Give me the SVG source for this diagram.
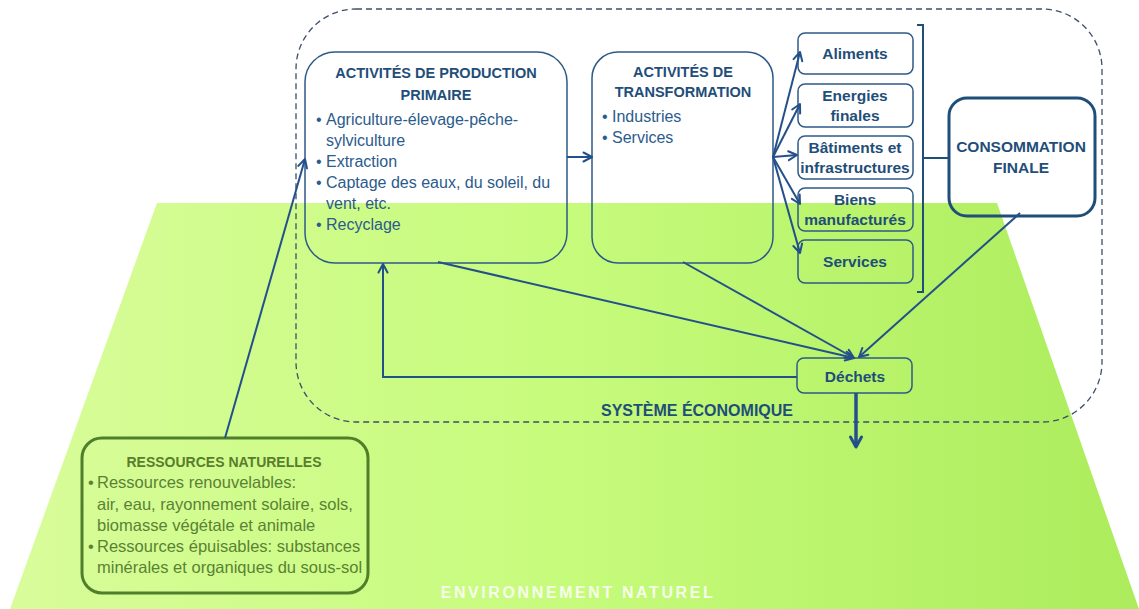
<svg xmlns="http://www.w3.org/2000/svg" width="1139" height="609" viewBox="0 0 1139 609">
<defs>
<linearGradient id="grn" x1="0" y1="0" x2="1" y2="0">
<stop offset="0" stop-color="#d8fc9a"/>
<stop offset="0.5" stop-color="#c6fb7b"/>
<stop offset="1" stop-color="#acec5c"/>
</linearGradient>
<marker id="arr" viewBox="0 0 12 12" refX="10.5" refY="6" markerWidth="12" markerHeight="12" markerUnits="userSpaceOnUse" orient="auto">
<path d="M2,1.5 L10.5,6 L2,10.5" fill="none" stroke="#24508a" stroke-width="2" stroke-linecap="round" stroke-linejoin="round"/>
</marker>
<marker id="arrB" viewBox="0 0 14 14" refX="12" refY="7" markerWidth="14" markerHeight="14" markerUnits="userSpaceOnUse" orient="auto">
<path d="M2,1.5 L12,7 L2,12.5" fill="none" stroke="#24508a" stroke-width="3" stroke-linecap="round" stroke-linejoin="round"/>
</marker>
</defs>
<style>
.box{fill:none;stroke:#2e5a88;stroke-width:1.5}
.ttl{font-family:"Liberation Sans",Arial,sans-serif;font-weight:bold;font-size:14.5px;fill:#1f4e79;text-anchor:middle}
.lbl{font-family:"Liberation Sans",Arial,sans-serif;font-weight:bold;font-size:15.5px;fill:#1f4e79;text-anchor:middle}
.bul{font-family:"Liberation Sans",Arial,sans-serif;font-size:16px;fill:#2b5b8c}
.gttl{font-family:"Liberation Sans",Arial,sans-serif;font-weight:bold;font-size:14px;fill:#5a7d2c;text-anchor:middle}
.gbul{font-family:"Liberation Sans",Arial,sans-serif;font-size:16.5px;fill:#5a8233}
.con{fill:none;stroke:#24508a;stroke-width:2}
</style>
<rect x="0" y="0" width="1139" height="609" fill="#ffffff"/>
<g id="environnement">
<polygon points="157,203 997,203 1139,609 10,609" fill="url(#grn)"/>
<text x="578" y="598" font-family="Liberation Sans, Arial, sans-serif" font-weight="bold" font-size="16" letter-spacing="2.6" fill="#ffffff" fill-opacity="0.85" text-anchor="middle">ENVIRONNEMENT NATUREL</text>
</g>
<g id="systeme">
<rect x="296" y="9" width="806" height="413" rx="60" ry="60" fill="none" stroke="#3d4d6d" stroke-width="1.3" stroke-dasharray="6 4"/>
<text x="697" y="416" font-family="Liberation Sans, Arial, sans-serif" font-weight="bold" font-size="16" fill="#1f4e79" text-anchor="middle">SYSTÈME ÉCONOMIQUE</text>
</g>
<g id="production">
<rect class="box" x="305" y="52" width="262" height="211" rx="30"/>
<text class="ttl" x="436" y="78">ACTIVITÉS DE PRODUCTION</text>
<text class="ttl" x="436" y="100">PRIMAIRE</text>
<text class="bul" x="316" y="125">•</text><text class="bul" x="326" y="125">Agriculture-élevage-pêche-</text>
<text class="bul" x="326" y="146">sylviculture</text>
<text class="bul" x="316" y="167">•</text><text class="bul" x="326" y="167">Extraction</text>
<text class="bul" x="316" y="188">•</text><text class="bul" x="326" y="188">Captage des eaux, du soleil, du</text>
<text class="bul" x="326" y="209">vent, etc.</text>
<text class="bul" x="316" y="230">•</text><text class="bul" x="326" y="230">Recyclage</text>
</g>
<g id="transformation">
<rect class="box" x="592" y="52" width="181" height="211" rx="26"/>
<text class="ttl" x="683" y="77">ACTIVITÉS DE</text>
<text class="ttl" x="683" y="97">TRANSFORMATION</text>
<text class="bul" x="602" y="122">•</text><text class="bul" x="612" y="122">Industries</text>
<text class="bul" x="602" y="143">•</text><text class="bul" x="612" y="143">Services</text>
</g>
<g id="aliments">
<rect class="box" x="798" y="33" width="115" height="41" rx="7"/>
<text class="lbl" x="855" y="59">Aliments</text>
</g>
<g id="energies">
<rect class="box" x="798" y="84" width="115" height="43" rx="7"/>
<text class="lbl" x="855" y="101">Energies</text>
<text class="lbl" x="855" y="121">finales</text>
</g>
<g id="batiments">
<rect class="box" x="798" y="136" width="115" height="43" rx="7"/>
<text class="lbl" x="855" y="153">Bâtiments et</text>
<text class="lbl" x="855" y="173">infrastructures</text>
</g>
<g id="biens">
<rect class="box" x="798" y="188" width="115" height="43" rx="7"/>
<text class="lbl" x="855" y="205">Biens</text>
<text class="lbl" x="855" y="225">manufacturés</text>
</g>
<g id="services">
<rect class="box" x="798" y="240" width="115" height="43" rx="7"/>
<text class="lbl" x="855" y="267">Services</text>
</g>
<g id="consommation">
<rect x="949" y="98" width="146" height="118" rx="18" fill="none" stroke="#1f4e79" stroke-width="3"/>
<text class="lbl" x="1021" y="152">CONSOMMATION</text>
<text class="lbl" x="1021" y="173">FINALE</text>
</g>
<g id="dechets">
<rect class="box" x="797" y="358" width="115" height="35" rx="7"/>
<text class="lbl" x="855" y="382">Déchets</text>
</g>
<g id="ressources">
<rect x="82" y="438" width="286" height="155" rx="20" fill="none" stroke="#4f7f2a" stroke-width="3"/>
<text class="gttl" x="224" y="467">RESSOURCES NATURELLES</text>
<text class="gbul" x="88" y="488">•</text><text class="gbul" x="97" y="488">Ressources renouvelables:</text>
<text class="gbul" x="97" y="510">air, eau, rayonnement solaire, sols,</text>
<text class="gbul" x="97" y="531">biomasse végétale et animale</text>
<text class="gbul" x="88" y="552">•</text><text class="gbul" x="97" y="552">Ressources épuisables: substances</text>
<text class="gbul" x="97" y="573">minérales et organiques du sous-sol</text>
</g>
<g id="connectors">
<line class="con" x1="225" y1="438" x2="305" y2="159" marker-end="url(#arr)"/>
<line class="con" x1="567" y1="157" x2="592" y2="157" marker-end="url(#arr)"/>
<line class="con" x1="773" y1="157" x2="800" y2="52" marker-end="url(#arr)"/>
<line class="con" x1="773" y1="157" x2="800" y2="104" marker-end="url(#arr)"/>
<line class="con" x1="773" y1="157" x2="797" y2="155" marker-end="url(#arr)"/>
<line class="con" x1="773" y1="157" x2="800" y2="204" marker-end="url(#arr)"/>
<line class="con" x1="773" y1="157" x2="800" y2="253" marker-end="url(#arr)"/>
<line class="con" x1="438" y1="262" x2="854" y2="358" marker-end="url(#arr)"/>
<line class="con" x1="683" y1="262" x2="854" y2="358" marker-end="url(#arr)"/>
<line class="con" x1="1020" y1="213" x2="859" y2="357" marker-end="url(#arr)"/>
<polyline class="con" points="797,377 383,377 383,264" marker-end="url(#arr)"/>
<line x1="856" y1="393" x2="856" y2="447" stroke="#24508a" stroke-width="3.5" marker-end="url(#arrB)"/>
<path d="M917,25 L923,25 L923,292 L917,292 M923,158 L949,158" fill="none" stroke="#1f4e79" stroke-width="2"/>
</g>
</svg>
